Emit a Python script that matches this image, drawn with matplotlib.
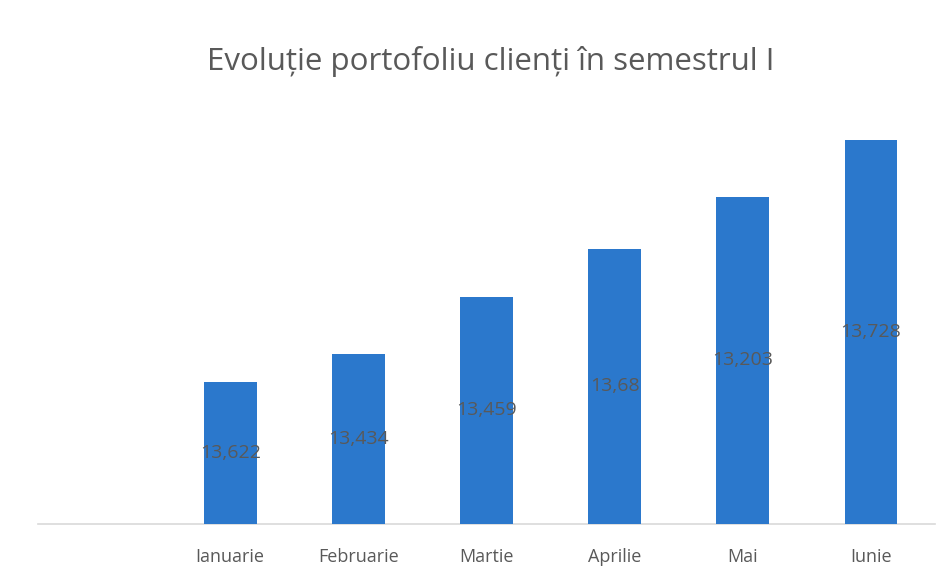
import matplotlib
matplotlib.use('Agg')
import matplotlib.pyplot as plt
import numpy as np

# --- Data ---
months = ["Ianuarie", "Februarie", "Martie", "Aprilie", "Mai", "Iunie"]
bar_heights = [142, 170, 227, 275, 327, 384]
value_labels = ["13,622", "13,434", "13,459", "13,68", "13,203", "13,728"]

COLOR_BAR = "#2b78cc"
COLOR_TEXT = "#595959"
COLOR_AXIS = "#d9d9d9"

plt.rcParams['font.family'] = ['Open Sans', 'DejaVu Sans']

fig = plt.figure(figsize=(9.52, 5.78), dpi=100, facecolor='white')
ax = fig.add_axes([0.04, 0.0934, 0.942, 0.7166])

x = np.arange(len(months))
bars = ax.bar(x, bar_heights, width=0.41, color=COLOR_BAR, zorder=3)

for bar, lbl in zip(bars, value_labels):
    h = bar.get_height()
    ax.text(bar.get_x() + bar.get_width() / 2, h / 2, lbl,
            ha='center', va='center', fontsize=14, color=COLOR_TEXT, zorder=4)

ax.set_xlim(-1.5, len(months) - 0.5)
ax.set_ylim(0, 414)
ax.set_xticks(x)
ax.set_xticklabels(months, fontsize=13, color=COLOR_TEXT)
ax.tick_params(axis='x', length=0, pad=17)
ax.set_yticks([])
for s in ['top', 'right', 'left']:
    ax.spines[s].set_visible(False)
ax.spines['bottom'].set_color(COLOR_AXIS)
ax.spines['bottom'].set_linewidth(1.2)

fig.text(0.515, 0.893, "Evoluție portofoliu clienți în semestrul I",
         ha='center', va='center', fontsize=22.5, color=COLOR_TEXT)

fig.savefig("out.png", dpi=100, facecolor='white')
